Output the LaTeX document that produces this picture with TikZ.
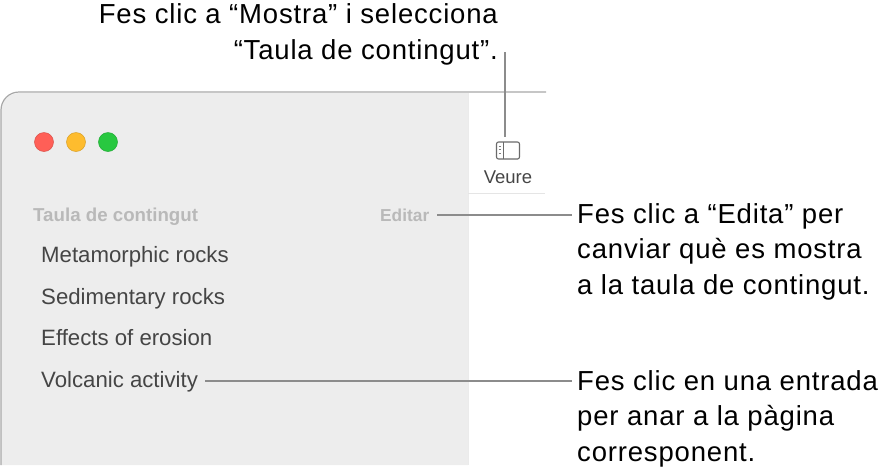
\documentclass[tikz,border=0pt]{standalone}
\usepackage{fontspec}
\setmainfont{Liberation Sans}
\newfontfamily\notefont[LetterSpace=3]{Liberation Sans}
\definecolor{sidebar}{HTML}{EDEDED}
\definecolor{edge}{HTML}{A8A8A8}
\definecolor{callout}{HTML}{8C8C8C}
\definecolor{dimtext}{HTML}{B9B9B9}
\definecolor{rowtext}{HTML}{454545}
\definecolor{btnred}{HTML}{FF5F57}
\definecolor{btnyellow}{HTML}{FEBC2E}
\definecolor{btngreen}{HTML}{28C840}
\tikzset{
  calloutline/.style={draw=callout,line width=2.4pt},
  notetext/.style={inner sep=0pt,font=\notefont\fontsize{27.5}{35.5}\selectfont},
  rowlabel/.style={anchor=base west,inner sep=0pt,text=rowtext,font=\fontsize{22.2}{24}\selectfont},
  headlabel/.style={anchor=base west,inner sep=0pt,text=dimtext,font=\fontsize{18.7}{20}\selectfont\bfseries},
  winbutton/.style={circle,minimum size=19pt,inner sep=0pt,line width=0.5pt}
}
\begin{document}
\begin{tikzpicture}[x=1pt,y=-1pt]
  \useasboundingbox (0,0) rectangle (892,475);
  % window
  \fill[sidebar] (1,465) -- (1,111) arc[start angle=180,end angle=90,radius=18pt] -- (468,93) -- (468,465) -- cycle;
  \draw[edge,line width=1.2pt] (1,465) -- (1,110) arc[start angle=180,end angle=90,radius=18pt] -- (546,92);
  \draw[black!8,line width=1pt] (468,93) -- (468,465);
  \draw[black!10,line width=1pt] (468,193) -- (545,193);
  % buttons
  \node[winbutton,fill=btnred,draw=btnred!85!black] (closebtn) at (44,142) {};
  \node[winbutton,fill=btnyellow,draw=btnyellow!85!black] (minbtn) at (76,142) {};
  \node[winbutton,fill=btngreen,draw=btngreen!85!black] (zoombtn) at (108,142) {};
  % toolbar
  \node[draw=rowtext!80,line width=1.1pt,rounded corners=2pt,minimum width=23pt,minimum height=17pt,inner sep=0pt] (veureicon) at (508,150.5) {};
  \draw[rowtext!80,line width=1.1pt] (503.5,142) -- (503.5,159);
  \foreach \y in {146,149.5,153} \draw[rowtext!70,line width=1pt] (498.5,\y) -- (501,\y);
  \node[anchor=base,inner sep=0pt,text=rowtext,font=\fontsize{18.5}{20}\selectfont] (veure) at (508,183) {Veure};
  % sidebar
  \node[headlabel] (heading) at (33,221) {Taula de contingut};
  \node[headlabel,font=\fontsize{17.3}{20}\selectfont\bfseries] (editar) at (380,221) {Editar};
  \node[rowlabel] (row1) at (41,262) {Metamorphic rocks};
  \node[rowlabel] (row2) at (41,304) {Sedimentary rocks};
  \node[rowlabel] (row3) at (41,345) {Effects of erosion};
  \node[rowlabel] (row4) at (41,387) {Volcanic activity};
  % notes
  \node[notetext,anchor=north east,align=right] (shownote) at (498,3.5) {Fes clic a “Mostra” i selecciona\\“Taula de contingut”.};
  \node[notetext,anchor=north west,align=left] (editnote) at (577,203) {Fes clic a “Edita” per\\canviar què es mostra\\a la taula de contingut.};
  \node[notetext,anchor=north west,align=left] (rownote) at (577,370) {Fes clic en una entrada\\per anar a la pàgina\\corresponent.};
  % callouts
  \coordinate (showend) at (505,52);
  \draw[calloutline] (showend) -- ([yshift=4pt]showend |- veureicon.north);
  \draw[calloutline] ([xshift=8pt]editar.east) -- ([xshift=-5pt]editar.east -| editnote.west);
  \draw[calloutline] ([xshift=7pt]row4.east) -- ([xshift=-5pt]row4.east -| rownote.west);
\end{tikzpicture}
\end{document}
